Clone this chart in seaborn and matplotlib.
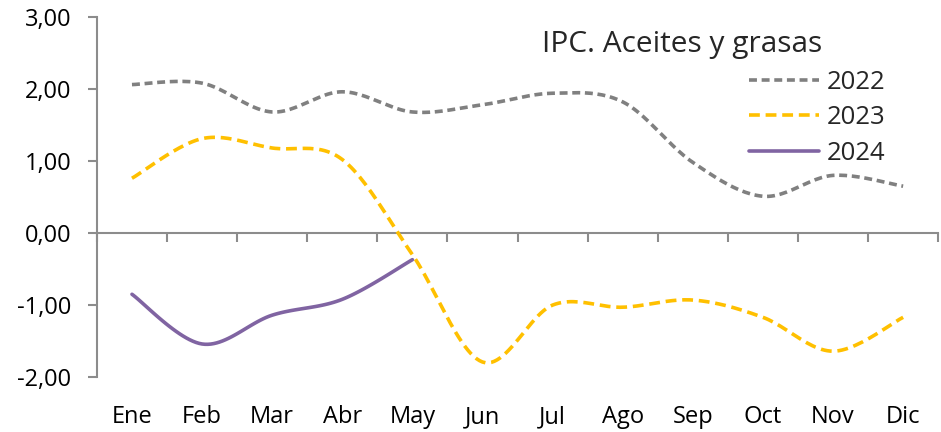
import numpy as np
import pandas as pd
import matplotlib
matplotlib.use("Agg")
import matplotlib.pyplot as plt
import seaborn as sns
from matplotlib.ticker import FuncFormatter

# data
meses = ["Ene", "Feb", "Mar", "Abr", "May", "Jun", "Jul", "Ago", "Sep", "Oct", "Nov", "Dic"]
ipc_2022 = [2.06, 2.08, 1.68, 1.96, 1.68, 1.78, 1.94, 1.82, 0.98, 0.51, 0.80, 0.65]
ipc_2023 = [0.76, 1.31, 1.18, 1.02, -0.30, -1.79, -1.00, -1.03, -0.93, -1.17, -1.64, -1.17]
ipc_2024 = [-0.85, -1.54, -1.14, -0.92, -0.37]

sns.set_theme(style="white")
plt.rcParams['font.family'] = ['Open Sans', 'DejaVu Sans']


def suavizar(vals, n=24):
    # Excel-like smoothed line (Catmull-Rom through the data points)
    y = np.asarray(vals, dtype=float)
    x = np.arange(len(y), dtype=float)
    xp = np.concatenate([[x[0]], x, [x[-1]]])
    yp = np.concatenate([[y[0]], y, [y[-1]]])
    xs, ys = [], []
    t = np.linspace(0, 1, n, endpoint=False)
    for i in range(1, len(xp) - 2):
        for arr, out in ((xp, xs), (yp, ys)):
            p0, p1, p2, p3 = arr[i - 1], arr[i], arr[i + 1], arr[i + 2]
            out.extend(0.5 * (2 * p1 + (-p0 + p2) * t
                              + (2 * p0 - 5 * p1 + 4 * p2 - p3) * t ** 2
                              + (-p0 + 3 * p1 - 3 * p2 + p3) * t ** 3))
    xs.append(x[-1])
    ys.append(y[-1])
    return np.array(xs), np.array(ys)


fig, ax = plt.subplots(figsize=(9.41, 4.32), dpi=100)
fig.subplots_adjust(left=0.103, right=0.997, top=0.961, bottom=0.127)

series = [("2022", ipc_2022, "#808080", (0, (2.2, 1.3))),
          ("2023", ipc_2023, "#FFC000", (0, (3.0, 1.6))),
          ("2024", ipc_2024, "#8064A2", "-")]
for nombre, vals, color, estilo in series:
    xs, ys = suavizar(vals)
    df = pd.DataFrame({"x": xs, "y": ys})
    sns.lineplot(data=df, x="x", y="y", sort=False, estimator=None, ax=ax,
                 color=color, linestyle=estilo, linewidth=2.6, label=nombre)

ax.set_xlim(-0.5, len(meses) - 0.5)
ax.set_ylim(-2, 3)
ax.set_yticks([-2, -1, 0, 1, 2, 3])
ax.yaxis.set_major_formatter(FuncFormatter(lambda v, p: f"{v:.2f}".replace(".", ",")))
ax.set_xticks(range(len(meses)))
ax.set_xticklabels(meses)
ax.set_xlabel("")
ax.set_ylabel("")

gris = "#8C8C8C"
for s in ["top", "right", "bottom"]:
    ax.spines[s].set_visible(False)
ax.spines["left"].set_color(gris)
ax.spines["left"].set_linewidth(1.5)
ax.tick_params(axis="y", direction="out", length=6.5, width=1.5, color=gris,
               labelsize=17, pad=12, left=True, labelcolor="black")
ax.tick_params(axis="x", length=0, labelsize=17, pad=20, labelcolor="black")

# category axis crossing at zero
eje0 = ax.secondary_xaxis(2 / 5)
eje0.set_xticks(np.arange(-0.5, len(meses), 1.0))
eje0.set_xticklabels([])
eje0.spines["bottom"].set_color(gris)
eje0.spines["bottom"].set_linewidth(1.5)
eje0.tick_params(axis="x", direction="out", length=6.5, width=1.5, color=gris)

ax.text(0.862, 0.922, "IPC. Aceites y grasas", transform=ax.transAxes,
        ha="right", va="center", fontsize=21.5)
ax.legend(loc="upper right", bbox_to_anchor=(0.955, 0.895), frameon=False,
          fontsize=18.5, handlelength=2.7, handletextpad=0.3, labelspacing=0.4,
          borderaxespad=0.2)

fig.savefig("out.png", dpi=100)
